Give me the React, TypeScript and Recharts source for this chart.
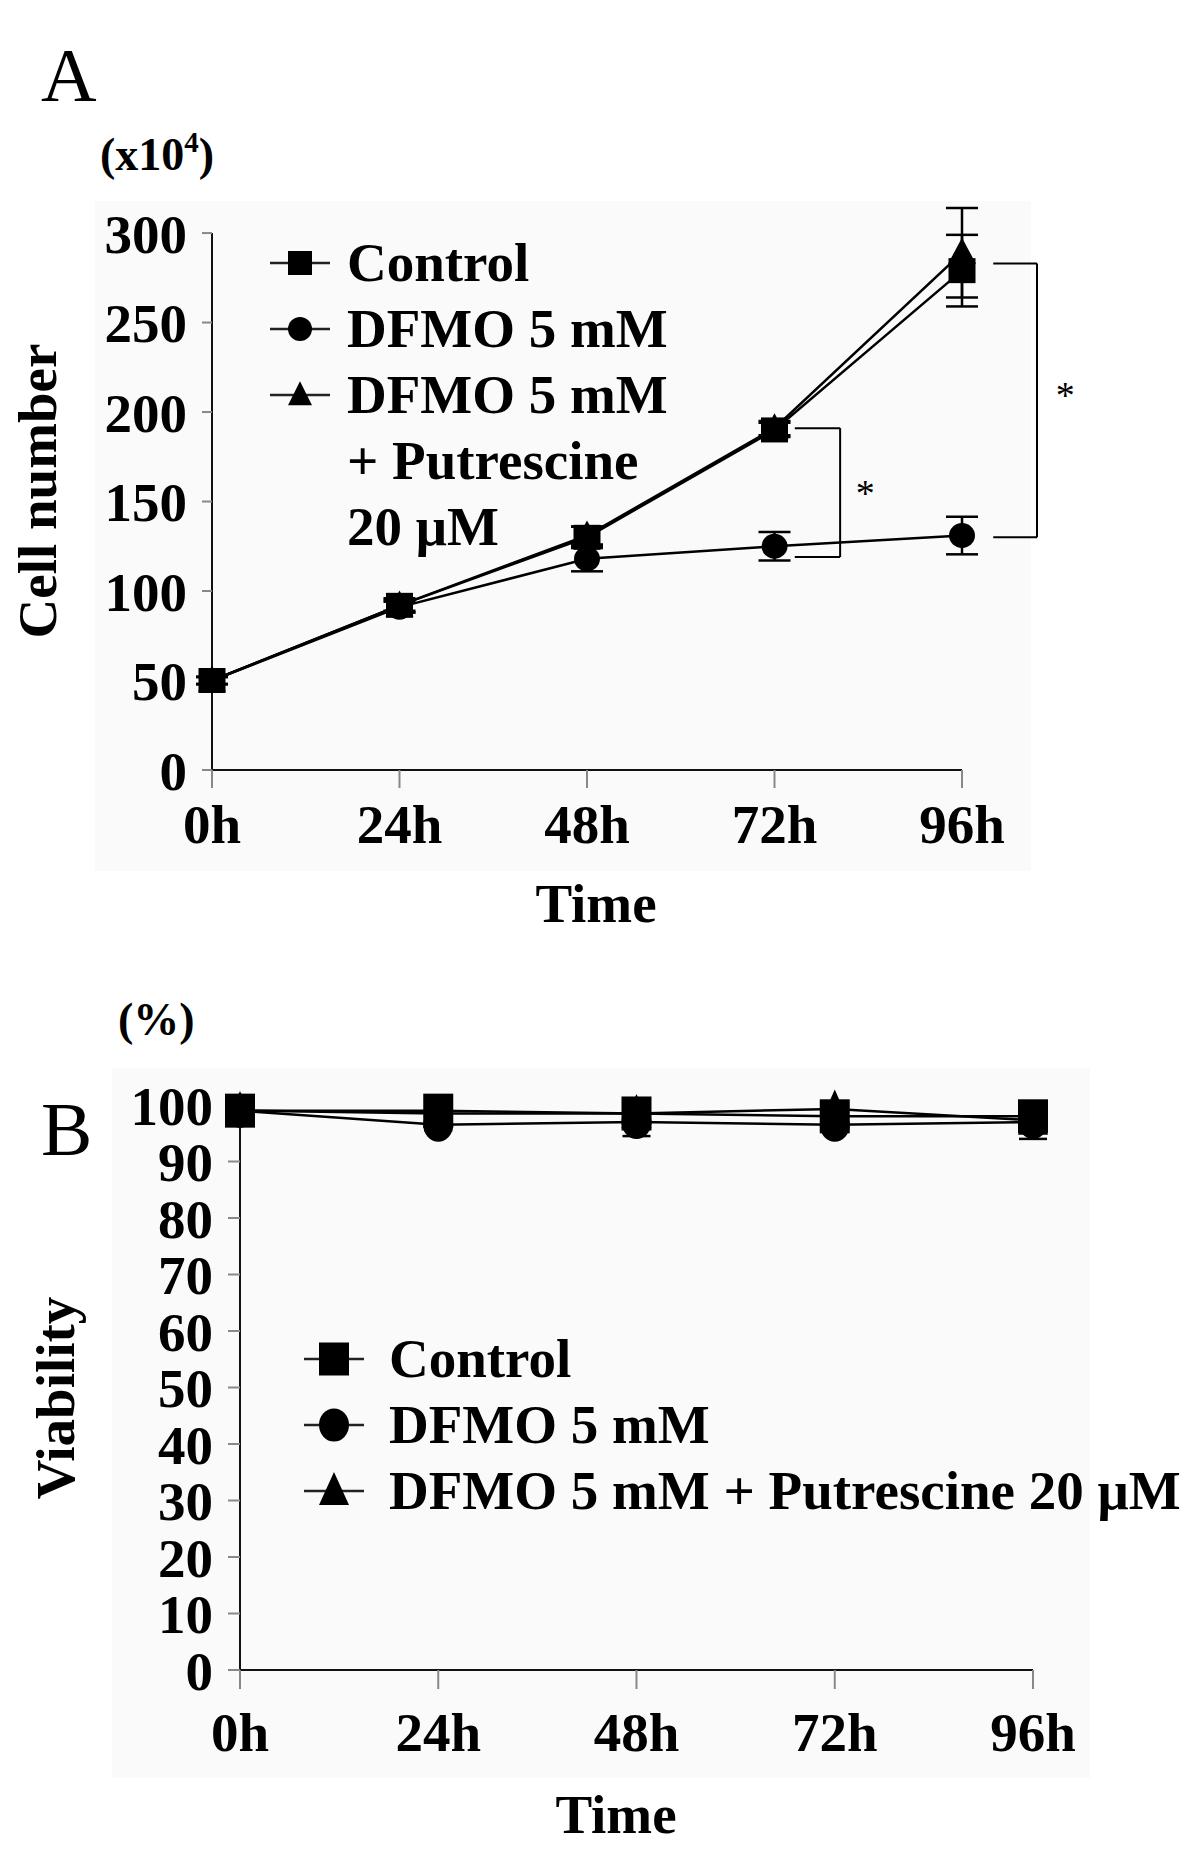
import React from "react";
import {
  LineChart, Line, XAxis, YAxis, ErrorBar, ReferenceLine, ReferenceDot,
} from "recharts";

const FONT = "'Liberation Serif', 'Times New Roman', serif";

// shared time points
const hours = [0, 24, 48, 72, 96];

// Panel A: cell number (x10^4)
const cellTicks = [0, 50, 100, 150, 200, 250, 300];
const controlA = [50, 92, 130, 190, 279];
const controlAErr = [2, 4, 6, 4, 20];
const dfmoA = [50, 91, 118, 125, 131];
const dfmoAErr = [2, 3, 7, 8, 10.5];
const putA = [50, 92, 131, 191, 289];
const putAErr = [2, 3, 5, 4, 25];

// significance brackets (x in hours, y in cell number)
const bracketFrom = [74.6, 100];
const bracketTo = [80.4, 105.6];
const bracketTop = [191, 283];
const bracketBottom = [119, 130];
const starX = [83.6, 109.2];
const starY = [157, 212];

// Panel B: viability (%)
const viabilityTicks = [0, 10, 20, 30, 40, 50, 60, 70, 80, 90, 100];
const controlB = [99, 99, 98.5, 98, 98];
const controlBErr = [0.5, 0.5, 1, 0.5, 1];
const dfmoB = [99, 96.5, 97, 96.5, 97];
const dfmoBErr = [0.5, 1, 2.5, 1, 3];
const putB = [99, 98.5, 98.5, 99.3, 97.3];
const putBErr = [0.5, 0.5, 1, 0.5, 1];

const dataA = hours.map((t, i) => ({
  t,
  control: controlA[i], controlErr: controlAErr[i],
  dfmo: dfmoA[i], dfmoErr: dfmoAErr[i],
  put: putA[i], putErr: putAErr[i],
}));

const dataB = hours.map((t, i) => ({
  t,
  control: controlB[i], controlErr: controlBErr[i],
  dfmo: dfmoB[i], dfmoErr: dfmoBErr[i],
  put: putB[i], putErr: putBErr[i],
}));

type Shape = "square" | "circle" | "triangle";

function Marker({ cx, cy, shape, w, h }: { cx: number; cy: number; shape: Shape; w: number; h: number }) {
  const hw = w / 2;
  const hh = h / 2;
  if (shape === "square") return <rect x={cx - hw} y={cy - hh} width={w} height={h} fill="#000" />;
  if (shape === "circle") return <ellipse cx={cx} cy={cy} rx={hw} ry={hh} fill="#000" />;
  return (
    <polygon
      points={`${cx},${cy - hh * 1.15} ${cx + hw},${cy + hh * 0.85} ${cx - hw},${cy + hh * 0.85}`}
      fill="#000"
    />
  );
}

const dotFn = (shape: Shape, w: number, h: number) => (p: any) => {
  if (p.cx == null || p.cy == null) return <g key={`e-${p.index}`} />;
  return <Marker key={`${shape}-${p.index}`} cx={p.cx} cy={p.cy} shape={shape} w={w} h={h} />;
};

const tickStyle = { fontSize: 55, fontWeight: 700, fill: "#000", fontFamily: FONT };
const axisLine = { stroke: "#111", strokeWidth: 2 };
const tickLine = { stroke: "#888", strokeWidth: 2 };

function LegendRow({ shape, label, w, h, showMarker, left, gap }: any) {
  return (
    <div style={{ display: "flex", alignItems: "center", height: 66 }}>
      <svg width={64} height={50} style={{ marginLeft: left, flex: "none" }}>
        {showMarker && (
          <>
            <line x1={2} y1={25} x2={62} y2={25} stroke="#222" strokeWidth={2.5} />
            <Marker cx={32} cy={25} shape={shape} w={w} h={h} />
          </>
        )}
      </svg>
      <span style={{ marginLeft: gap, fontFamily: FONT, fontWeight: 700, fontSize: 55, lineHeight: "66px", whiteSpace: "nowrap" }}>
        {label}
      </span>
    </div>
  );
}

const legendALabels = ["Control", "DFMO 5 mM", "DFMO 5 mM", "+ Putrescine", "20 μM"];
const legendAShapes: (Shape | null)[] = ["square", "circle", "triangle", null, null];
const legendBLabels = ["Control", "DFMO 5 mM", "DFMO 5 mM + Putrescine 20 μM"];
const legendBShapes: Shape[] = ["square", "circle", "triangle"];

export default function App() {
  const starShape = (p: any) => (
    <text x={p.cx} y={p.cy + 17} textAnchor="middle" fontSize={38} fontFamily={FONT} fill="#000">*</text>
  );

  return (
    <div style={{ position: "absolute", left: 0, top: 0, width: 1200, height: 1858, background: "#fff", fontFamily: FONT }}>
      {/* faint panel backgrounds */}
      <div style={{ position: "absolute", left: 95, top: 201, width: 936, height: 670, background: "#fafafa" }} />
      <div style={{ position: "absolute", left: 112, top: 1068, width: 978, height: 710, background: "#fafafa" }} />

      {/* Panel A */}
      <div style={{ position: "absolute", left: 0, top: 0 }}>
        <LineChart width={1200} height={900} data={dataA} margin={{ top: 208, right: 238, bottom: 70, left: 132 }}>
          <XAxis
            dataKey="t" type="number" domain={[0, 96]} ticks={hours} height={60} interval={0}
            tickFormatter={(v: number) => `${v}h`} tick={tickStyle}
            axisLine={axisLine} tickLine={tickLine} tickSize={18} tickMargin={16}
          />
          <YAxis
            type="number" domain={[0, 314]} ticks={cellTicks} width={80} interval={0}
            tick={tickStyle} axisLine={false} tickLine={tickLine} tickSize={10} tickMargin={15}
          />
          <ReferenceLine segment={[{ x: 0, y: 0 }, { x: 0, y: 300 }]} stroke="#111" strokeWidth={2} ifOverflow="visible" />
          <Line dataKey="put" stroke="#000" strokeWidth={2.5} isAnimationActive={false} dot={dotFn("triangle", 28, 26)} activeDot={false}>
            <ErrorBar dataKey="putErr" width={16} stroke="#000" strokeWidth={2.5} isAnimationActive={false} />
          </Line>
          <Line dataKey="dfmo" stroke="#000" strokeWidth={2.5} isAnimationActive={false} dot={dotFn("circle", 26, 25)} activeDot={false}>
            <ErrorBar dataKey="dfmoErr" width={16} stroke="#000" strokeWidth={2.5} isAnimationActive={false} />
          </Line>
          <Line dataKey="control" stroke="#000" strokeWidth={2.5} isAnimationActive={false} dot={dotFn("square", 27, 25)} activeDot={false}>
            <ErrorBar dataKey="controlErr" width={16} stroke="#000" strokeWidth={2.5} isAnimationActive={false} />
          </Line>
          {bracketFrom.map((x0, i) => (
            <ReferenceLine key={`bt${i}`} ifOverflow="visible" stroke="#000" strokeWidth={2}
              segment={[{ x: x0, y: bracketTop[i] }, { x: bracketTo[i], y: bracketTop[i] }]} />
          ))}
          {bracketFrom.map((x0, i) => (
            <ReferenceLine key={`bb${i}`} ifOverflow="visible" stroke="#000" strokeWidth={2}
              segment={[{ x: x0, y: bracketBottom[i] }, { x: bracketTo[i], y: bracketBottom[i] }]} />
          ))}
          {bracketTo.map((x1, i) => (
            <ReferenceLine key={`bv${i}`} ifOverflow="visible" stroke="#000" strokeWidth={2}
              segment={[{ x: x1, y: bracketTop[i] }, { x: x1, y: bracketBottom[i] }]} />
          ))}
          {starX.map((sx, i) => (
            <ReferenceDot key={`s${i}`} x={sx} y={starY[i]} ifOverflow="visible" shape={starShape} />
          ))}
        </LineChart>
      </div>

      {/* Panel B */}
      <div style={{ position: "absolute", left: 0, top: 950 }}>
        <LineChart width={1200} height={908} data={dataB} margin={{ top: 155, right: 167, bottom: 128, left: 160 }}>
          <XAxis
            dataKey="t" type="number" domain={[0, 96]} ticks={hours} height={60} interval={0}
            tickFormatter={(v: number) => `${v}h`} tick={tickStyle}
            axisLine={axisLine} tickLine={tickLine} tickSize={19} tickMargin={23}
          />
          <YAxis
            type="number" domain={[0, 100]} ticks={viabilityTicks} width={80} interval={0}
            tick={tickStyle} axisLine={axisLine} tickLine={tickLine} tickSize={12} tickMargin={15}
          />
          <Line dataKey="put" stroke="#000" strokeWidth={2.5} isAnimationActive={false} dot={dotFn("triangle", 30, 34)} activeDot={false}>
            <ErrorBar dataKey="putErr" width={14} stroke="#000" strokeWidth={2.5} isAnimationActive={false} />
          </Line>
          <Line dataKey="dfmo" stroke="#000" strokeWidth={2.5} isAnimationActive={false} dot={dotFn("circle", 30, 34)} activeDot={false}>
            <ErrorBar dataKey="dfmoErr" width={14} stroke="#000" strokeWidth={2.5} isAnimationActive={false} />
          </Line>
          <Line dataKey="control" stroke="#000" strokeWidth={2.5} isAnimationActive={false} dot={dotFn("square", 30, 34)} activeDot={false}>
            <ErrorBar dataKey="controlErr" width={14} stroke="#000" strokeWidth={2.5} isAnimationActive={false} />
          </Line>
        </LineChart>
      </div>

      {/* Legend A */}
      <div style={{ position: "absolute", left: 0, top: 230 }}>
        {legendALabels.map((lab, i) => (
          <LegendRow key={i} shape={legendAShapes[i] ?? "square"} showMarker={legendAShapes[i] != null}
            label={lab} w={24} h={24} left={268} gap={15} />
        ))}
      </div>

      {/* Legend B */}
      <div style={{ position: "absolute", left: 0, top: 1326 }}>
        {legendBLabels.map((lab, i) => (
          <LegendRow key={i} shape={legendBShapes[i]} showMarker label={lab} w={30} h={33} left={302} gap={23} />
        ))}
      </div>

      {/* titles and axis labels */}
      <svg width={1200} height={1858} style={{ position: "absolute", left: 0, top: 0, pointerEvents: "none" }}>
        <text x={41} y={101} fontSize={77} fontFamily={FONT}>A</text>
        <text x={100} y={170} fontSize={46} fontWeight={700} fontFamily={FONT}>
          (x10<tspan fontSize={29} dy={-18}>4</tspan><tspan dy={18}>)</tspan>
        </text>
        <text x={56} y={491} fontSize={55} fontWeight={700} fontFamily={FONT} textAnchor="middle"
          transform="rotate(-90 56 491)">Cell number</text>
        <text x={596} y={922} fontSize={55} fontWeight={700} fontFamily={FONT} textAnchor="middle">Time</text>

        <text x={118} y={1035} fontSize={46} fontWeight={700} fontFamily={FONT}>(%)</text>
        <text x={41} y={1155} fontSize={77} fontFamily={FONT}>B</text>
        <text x={74} y={1398} fontSize={55} fontWeight={700} fontFamily={FONT} textAnchor="middle"
          transform="rotate(-90 74 1398)">Viability</text>
        <text x={616} y={1833} fontSize={55} fontWeight={700} fontFamily={FONT} textAnchor="middle">Time</text>
      </svg>
    </div>
  );
}
